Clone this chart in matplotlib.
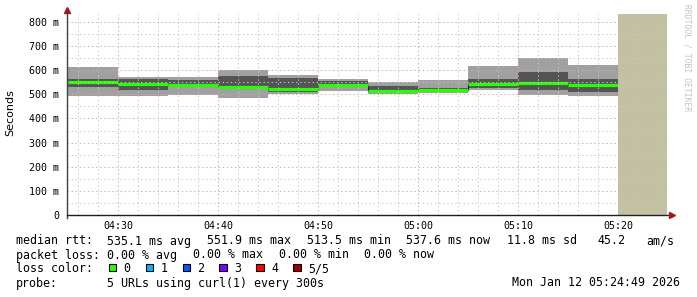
import numpy as np
import matplotlib
matplotlib.use("Agg")
from matplotlib import pyplot as plt
from matplotlib.patches import Rectangle

# block starts in minutes after 04:00, each block is 5 min
block_start = [20, 25, 30, 35, 40, 45, 50, 55, 60, 65, 70, 75]
ping_min  = [492, 492, 495, 496, 483, 500, 512, 502, 507, 517, 499, 492]
ping_lo   = [531, 529, 517, 538, 528, 511, 536, 508, 515, 527, 517, 508]
median    = [548, 551.9, 542, 540, 531, 521, 539, 513.5, 517, 542, 546, 537.6]
ping_hi   = [582, 565, 565, 561, 578, 568, 554, 536, 527, 565, 591, 565]
ping_max  = [640, 615, 574, 574, 600, 582, 565, 553, 561, 619, 652, 623]
no_data_from = 80

x_ticks = [30, 40, 50, 60, 70, 80]
x_labels = ["04:30", "04:40", "04:50", "05:00", "05:10", "05:20"]
y_ticks = [0, 100, 200, 300, 400, 500, 600, 700, 800]
y_labels = ["0", "100 m", "200 m", "300 m", "400 m", "500 m", "600 m", "700 m", "800 m"]

loss_names = ["0", "1", "2", "3", "4", "5/5"]
loss_colors = ["#26ff00", "#00b8ff", "#0059ff", "#7e00ff", "#ff0000", "#a00000"]

W, H = 697, 297
def fx(px): return px / W
def fy(py): return 1 - py / H

mono = "DejaVu Sans Mono"
fig = plt.figure(figsize=(W / 100, H / 100), dpi=100)
ax = fig.add_axes([fx(67), fy(215), 600 / W, (215 - 14) / H])
xmin, xmax = 24.9, 84.9
ymax = 201 / (193 / 800)
ax.set_xlim(xmin, xmax)
ax.set_ylim(0, ymax)

# smoke
for i, s in enumerate(block_start):
    ax.fill_between([s, s + 5], ping_min[i], ping_max[i], color="#a0a0a0", lw=0, zorder=1)
    ax.fill_between([s, s + 5], ping_lo[i], ping_hi[i], color="#545454", lw=0, zorder=2)

edges = block_start + [block_start[-1] + 5]
ax.step(edges, median + [median[-1]], where="post", color="#202020", lw=0.8, zorder=3)
ax.hlines(median, block_start, [s + 5 for s in block_start], color=loss_colors[0], lw=2.3, zorder=4)

ax.axvspan(no_data_from, xmax, color="#c2c2a3", lw=0, zorder=4.5)

# grid
dots = (0, (1.4, 2.8))
for m in range(26, 85, 2):
    if m % 10:
        ax.axvline(m, color="#c8c8c8", lw=0.7, ls=dots, zorder=5)
for m in x_ticks:
    ax.axvline(m, color="#e4a4a4", lw=0.7, ls=dots, zorder=5)
for v in range(50, 850, 100):
    ax.axhline(v, color="#c8c8c8", lw=0.7, ls=dots, zorder=5)
for v in y_ticks[1:]:
    ax.axhline(v, color="#e4a4a4", lw=0.7, ls=dots, zorder=5)

for sp in ax.spines.values():
    sp.set_visible(False)
ax.plot([0, 0], [-3 / 201, 1.025], transform=ax.transAxes, color="#404040", lw=1, clip_on=False, zorder=6)
ax.plot([0, 1.008], [0, 0], transform=ax.transAxes, color="#202020", lw=1, clip_on=False, zorder=6)
ax.plot([0], [1.022], marker="^", ms=4, color="#a01818", transform=ax.transAxes, clip_on=False, zorder=7)
ax.plot([1.008], [0], marker=">", ms=4, color="#a01818", transform=ax.transAxes, clip_on=False, zorder=7)

ax.set_xticks(x_ticks)
ax.set_xticklabels(x_labels, family=mono, fontsize=7.2)
ax.set_yticks(y_ticks)
ax.set_yticklabels(y_labels, family=mono, fontsize=7.2)
ax.tick_params(axis="x", length=0, pad=4)
ax.tick_params(axis="y", length=0, pad=5.5)

fig.text(fx(10), fy(113), "Seconds", rotation=90, ha="center", va="center",
         family="DejaVu Sans", fontsize=8)
fig.text(fx(687), fy(4), "RRDTOOL / TOBI OETIKER", rotation=270, ha="center", va="top",
         family=mono, fontsize=5.8, color="#c4c4c4")

fs = 8.4
def line(px, py, s, **kw):
    fig.text(fx(px), fy(py), s, family=mono, fontsize=fs, va="baseline", **kw)

b1, b2, b3, b4 = 244.5, 258.5, 272.5, 286.5
line(16, b1, "median rtt:")
for px, s in zip([107, 207, 307, 406, 507, 597, 646],
                 ["535.1 ms avg", "551.9 ms max", "513.5 ms min", "537.6 ms now",
                  "11.8 ms sd", "45.2", "am/s"]):
    line(px, b1, s)
line(16, b2, "packet loss:")
for px, s in zip([107, 193, 279, 364], ["0.00 % avg", "0.00 % max", "0.00 % min", "0.00 % now"]):
    line(px, b2, s)
line(16, b3, "loss color:")
for i, (name, col) in enumerate(zip(loss_names, loss_colors)):
    x0 = 108.7 + i * 36.9
    fig.patches.append(Rectangle((fx(x0), fy(271)), 7.5 / W, 7.5 / H, transform=fig.transFigure,
                                 facecolor=col, edgecolor="black", lw=0.8))
    line(x0 + 15, b3, name)
line(16, b4, "probe:")
line(107, b4, "5 URLs using curl(1) every 300s")
line(680, b4, "Mon Jan 12 05:24:49 2026", ha="right")

fig.savefig("out.png", dpi=100)
